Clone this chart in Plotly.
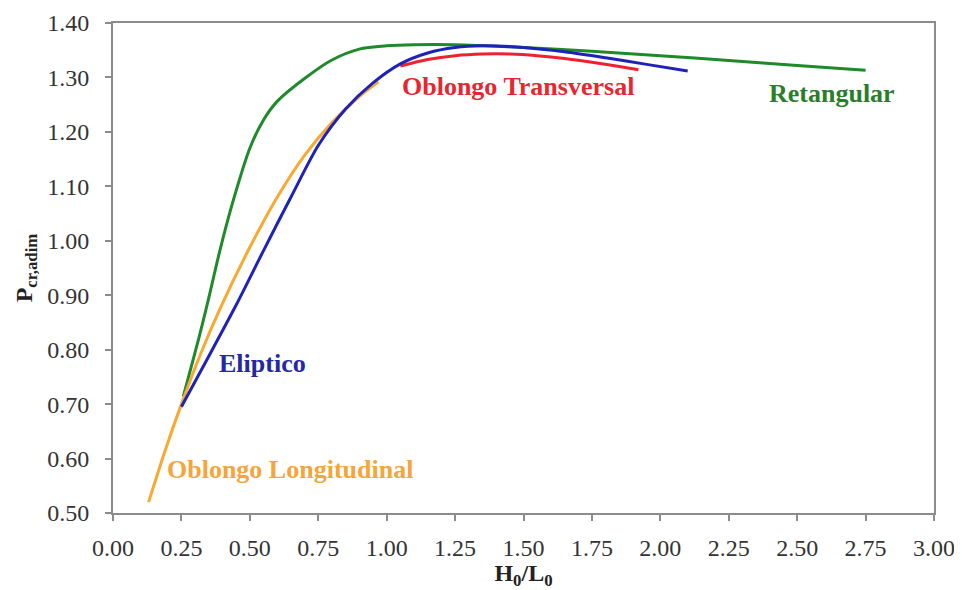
import plotly.graph_objects as go

# Retangular (green)
ret_x = [0.257, 0.312, 0.348, 0.391, 0.44, 0.50, 0.55, 0.60, 0.70, 0.80, 0.90, 1.00, 1.10, 1.25, 1.50, 1.75, 2.00, 2.25, 2.50, 2.75]
ret_y = [0.714, 0.818, 0.891, 0.983, 1.075, 1.170, 1.222, 1.256, 1.298, 1.332, 1.352, 1.358, 1.360, 1.360, 1.355, 1.348, 1.340, 1.331, 1.322, 1.313]

# Eliptico (blue)
eli_x = [0.25, 0.35, 0.45, 0.55, 0.65, 0.75, 0.85, 0.95, 1.05, 1.15, 1.25, 1.35, 1.50, 1.65, 1.80, 1.95, 2.10]
eli_y = [0.695, 0.788, 0.882, 0.982, 1.080, 1.175, 1.242, 1.290, 1.325, 1.345, 1.355, 1.358, 1.355, 1.347, 1.336, 1.324, 1.312]

# Oblongo Longitudinal (orange)
lon_x = [0.13, 0.19, 0.25, 0.32, 0.39, 0.50, 0.60, 0.70, 0.80, 0.90, 0.97]
lon_y = [0.520, 0.614, 0.700, 0.792, 0.874, 0.988, 1.080, 1.157, 1.217, 1.265, 1.292]

# Oblongo Transversal (red)
tra_x = [1.05, 1.15, 1.25, 1.35, 1.45, 1.55, 1.65, 1.75, 1.85, 1.92]
tra_y = [1.321, 1.333, 1.340, 1.343, 1.343, 1.340, 1.335, 1.328, 1.320, 1.314]

x_ticks = [0.00, 0.25, 0.50, 0.75, 1.00, 1.25, 1.50, 1.75, 2.00, 2.25, 2.50, 2.75, 3.00]
y_ticks = [0.50, 0.60, 0.70, 0.80, 0.90, 1.00, 1.10, 1.20, 1.30, 1.40]

C_GREEN = "#1f8a2a"
C_BLUE = "#1e22b8"
C_RED = "#ee2130"
C_ORANGE = "#f7a932"

series = [
    (ret_x, ret_y, C_GREEN, "Retangular"),
    (tra_x, tra_y, C_RED, "Oblongo Transversal"),
    (lon_x, lon_y, C_ORANGE, "Oblongo Longitudinal"),
    (eli_x, eli_y, C_BLUE, "Eliptico"),
]

fig = go.Figure()
for xs, ys, c, name in series:
    fig.add_trace(go.Scatter(x=xs, y=ys, mode="lines", name=name,
                             line=dict(color=c, width=3, shape="spline", smoothing=0.8)))

FONT = "Liberation Serif"
labels = [
    ("Oblongo Transversal", 1.05, 1.283, "#e8262f"),
    ("Retangular", 2.39, 1.270, "#2a7d2a"),
    ("Eliptico", 0.38, 0.775, "#2228a8"),
    ("Oblongo Longitudinal", 0.19, 0.580, "#f5a53a"),
]
for text, x, y, c in labels:
    fig.add_annotation(x=x, y=y, text="<b>" + text + "</b>", showarrow=False,
                       xanchor="left", yanchor="middle",
                       font=dict(family=FONT, size=26, color=c))

axis_common = dict(showline=True, linecolor="#8c8c8c", linewidth=2, mirror=True,
                   ticks="outside", ticklen=6, tickcolor="#8c8c8c", tickwidth=2,
                   showgrid=False, zeroline=False, automargin=False,
                   tickfont=dict(family=FONT, size=24, color="#333333"))

fig.update_xaxes(range=[0, 3.0], tickvals=x_ticks,
                 ticktext=[f"{v:.2f}" for v in x_ticks], ticklabelstandoff=6,
                 title=dict(text="<b>H<sub>0</sub>/L<sub>0</sub></b>",
                            font=dict(family=FONT, size=24, color="#222222"), standoff=10),
                 **axis_common)
fig.update_yaxes(range=[0.5, 1.4], tickvals=y_ticks,
                 ticktext=[f"{v:.2f}" for v in y_ticks], ticklabelstandoff=11,
                 title=dict(text="<b>P<sub>cr,adim</sub></b>",
                            font=dict(family=FONT, size=24, color="#222222"), standoff=8),
                 **axis_common)

# page body has an 8px default margin, so the figure is sized to fit the window
fig.update_layout(width=954, height=582, showlegend=False,
                  plot_bgcolor="white", paper_bgcolor="white",
                  margin=dict(l=105, r=28, t=15, b=77))

fig.write_html("out.html")
